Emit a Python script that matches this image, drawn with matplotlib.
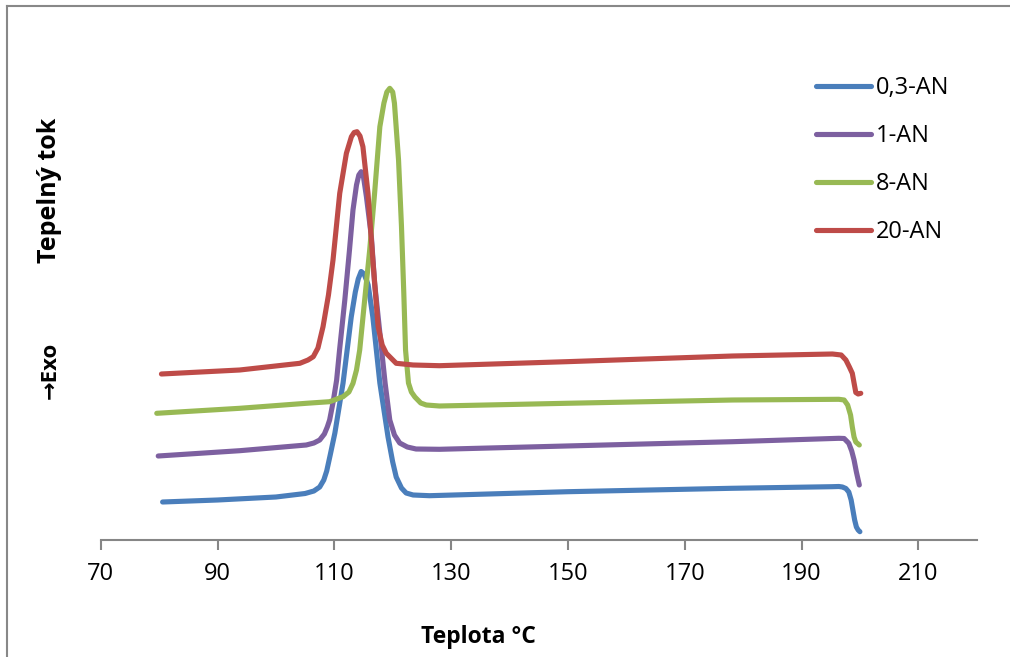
import numpy as np
import matplotlib.pyplot as plt
from matplotlib.lines import Line2D

# DSC krivky - teplota [°C] a tepelny tok [rel. jednotky]
t_03 = [80.6, 90, 100, 105, 106.5, 107.5, 108.2, 108.7, 109.3, 110.1, 111.5, 112.9,
        113.6, 114.1, 114.6, 115.1, 115.5, 115.8, 116.6, 117.8, 119.2, 120.0, 120.6,
        121.5, 122.3, 123.5, 126.3, 150, 178, 195.2, 196.4, 197.0, 197.6, 198.1,
        198.5, 198.8, 199.1, 199.4, 199.7, 200]
q_03 = [38, 40, 43, 46.5, 49, 53, 60, 69, 85, 107, 157, 223,
        248, 261, 268.5, 266, 260, 255, 223, 157, 103, 78, 63,
        52, 47, 45, 44.3, 48.3, 51.7, 53.3, 53.5, 53, 51.5, 48,
        40, 30, 20, 13, 10, 8.3]

t_1 = [79.85, 93.8, 105.2, 106.5, 107.5, 108.3, 108.8, 109.2, 109.8, 110.4, 110.9,
       111.8, 112.6, 113.2, 113.8, 114.2, 114.6, 115.0, 115.5, 116.35, 116.9, 117.8,
       118.7, 119.5, 120.3, 121.2, 122.5, 124.0, 128.0, 149.7, 178.2, 196.4, 197.3,
       198.1, 198.6, 199.0, 199.4, 199.9]
q_1 = [84, 89.3, 95, 97, 100, 106, 113, 120, 138, 160, 190,
       240, 290, 330, 355, 365, 368.3, 363, 343.3, 303.3, 257, 207,
       157, 120, 105, 97, 93, 91, 90.7, 94, 98.3, 101.7, 101.5,
       96.7, 89, 80, 68, 55]

t_8 = [79.6, 93.8, 105.2, 109.2, 111.5, 112.5, 113.2, 113.8, 114.35, 115.2, 116.06,
       116.9, 117.8, 118.5, 119.0, 119.5, 120.0, 120.3, 121.0, 121.5, 121.9, 122.2,
       122.7, 123.2, 123.8, 124.8, 125.75, 128.0, 149.7, 178.2, 196.4, 197.3, 197.9,
       198.4, 198.7, 199.0, 199.3, 199.9]
q_8 = [126.7, 131.7, 136.7, 138.3, 143.3, 148, 156.7, 170, 190, 240, 290,
       346.7, 413.3, 437, 448, 451.7, 448, 436.7, 380, 314, 247, 190,
       157, 148, 143, 137, 135, 134, 136.7, 140, 140.7, 140, 135,
       125, 113, 103, 98, 95]

t_20 = [80.4, 93.8, 104.1, 105.5, 106.4, 107.2, 108.07, 109.0, 109.78, 110.93,
        112.07, 112.93, 113.4, 113.89, 114.4, 114.9, 115.77, 116.6, 117.5, 118.2,
        118.9, 120.6, 123.5, 128.0, 149.7, 178.2, 195.3, 196.8, 197.6, 198.2, 198.7,
        199.0, 199.3, 199.7, 200.15]
q_20 = [166, 170, 176.7, 180, 183.3, 192, 213.3, 245, 280, 346.7,
        386.7, 403.3, 407.5, 408.3, 404, 393.3, 346.7, 280, 213.3, 195,
        186.7, 176.7, 175, 174.3, 178.3, 184, 186, 185, 180, 173, 166.7,
        157, 147.5, 146, 146.7]

series = [
    ('0,3-AN', t_03, q_03, '#4A7EBB'),
    ('1-AN', t_1, q_1, '#7D60A0'),
    ('8-AN', t_8, q_8, '#98B954'),
    ('20-AN', t_20, q_20, '#BE4B48'),
]

plt.rcParams['font.family'] = ['Open Sans', 'DejaVu Sans']

fig = plt.figure(figsize=(10.10, 6.57), dpi=100)
ax = fig.add_axes([100.7 / 1010, 117 / 657, 876 / 1010, 500 / 657])

for name, t, q, c in series:
    ax.plot(t, q, color=c, lw=3.7, label=name,
            solid_capstyle='round', solid_joinstyle='round')

ax.set_xlim(70, 220)
ax.set_ylim(0, 500)
ax.set_xticks(np.arange(70, 211, 20))
ax.set_yticks([])
for s in ['left', 'right', 'top']:
    ax.spines[s].set_visible(False)
ax.spines['bottom'].set_color('#868686')
ax.spines['bottom'].set_linewidth(1.5)
ax.tick_params(axis='x', direction='out', length=7, width=1.5, color='#868686',
               labelsize=17, pad=9)

fig.text(478 / 1010, 1 - 637 / 657, 'Teplota °C', ha='center', va='center',
         fontsize=16.5, fontweight='bold')
fig.text(50 / 1010, 1 - 190 / 657, 'Tepelný tok', ha='center', va='center',
         rotation=90, fontsize=18, fontweight='bold')
fig.text(50 / 1010, 1 - 370 / 657, '→Exo', ha='center', va='center',
         rotation=90, fontsize=16, fontweight='bold')

ax.legend(loc='upper left', bbox_to_anchor=(816 / 1010, 1 - 76 / 657),
          bbox_transform=fig.transFigure, frameon=False, fontsize=17,
          handlelength=2.35, handletextpad=0.2, labelspacing=1.02,
          borderaxespad=0, borderpad=0)

# ramecek grafu
fig.add_artist(Line2D([7 / 1010, 7 / 1010], [0, 1 - 5.5 / 657],
                      transform=fig.transFigure, color='#888888', lw=1.5))
fig.add_artist(Line2D([7 / 1010, 1], [1 - 5.5 / 657, 1 - 5.5 / 657],
                      transform=fig.transFigure, color='#888888', lw=1.5))

fig.savefig('out.png', dpi=100)
